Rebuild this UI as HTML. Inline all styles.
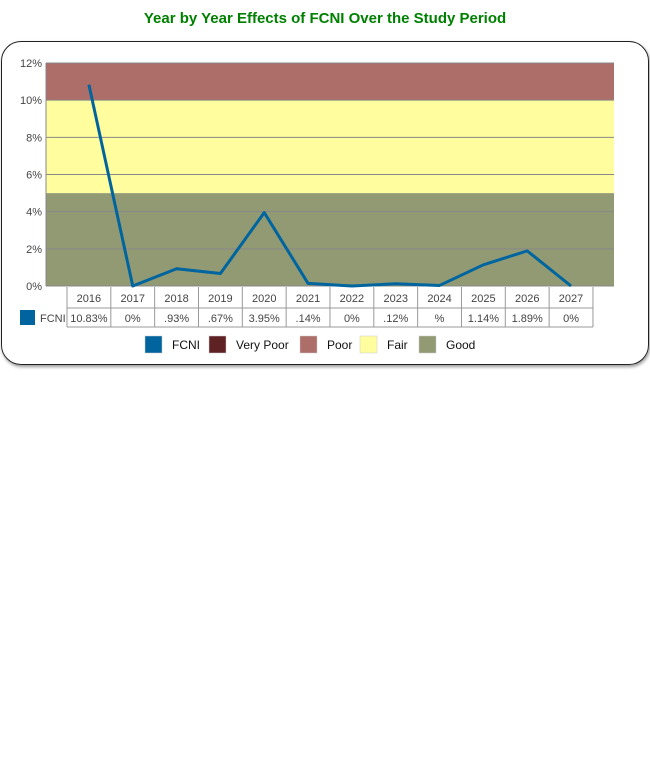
<!DOCTYPE html>
<html><head><meta charset="utf-8"><style>
body{margin:0;background:#fff;font-family:"Liberation Sans",Verdana,sans-serif;}
#title{position:absolute;left:0;width:650px;top:10px;text-align:center;color:#008000;font-weight:bold;font-size:15px;}
#box{position:absolute;left:1px;top:41px;width:646px;height:322px;border:1.5px solid #222;border-radius:20px;box-shadow:1px 2px 3px #999;}
svg{position:absolute;left:0;top:0;}
</style></head><body>
<div id="title">Year by Year Effects of FCNI Over the Study Period</div>
<div id="box"></div>
<svg id="c" width="650" height="766"></svg>
<script>
const categories=["2016","2017","2018","2019","2020","2021","2022","2023","2024","2025","2026","2027"];
const values=[10.83,0,0.93,0.67,3.95,0.14,0,0.12,0.03,1.14,1.89,0];
const labels=["10.83%","0%",".93%",".67%","3.95%",".14%","0%",".12%","%","1.14%","1.89%","0%"];
const ticks=[0,2,4,6,8,10,12];
const bands=[{from:0,to:5,color:"#919A73",name:"good"},{from:5,to:10,color:"#FFFD9E",name:"fair"},{from:10,to:12,color:"#AD6D69",name:"poor"}];
const L=46,R=614,T=63,B=286,colL=67,colW=43.83;
const y=v=>B-(v/12)*(B-T);
const x=i=>colL+colW*(i+0.5);
const svg=document.getElementById('c');const NS="http://www.w3.org/2000/svg";
function mk(t,a,p){const e=document.createElementNS(NS,t);for(const k in a)e.setAttribute(k,a[k]);(p||svg).appendChild(e);return e;}
bands.forEach(b=>{const r=mk('rect',{x:L,y:y(b.to),width:R-L,height:y(b.from)-y(b.to),fill:b.color});

});
ticks.forEach(t=>{const l=mk('line',{x1:L,x2:R,y1:y(t),y2:y(t),stroke:'#888','stroke-width':1});


const tx=mk('text',{x:42,y:y(t)+4,'text-anchor':'end','font-size':11,fill:'#444'});tx.textContent=t+'%';

});
mk('line',{x1:L,x2:L,y1:T,y2:B,stroke:'#888'});
const pl=mk('polyline',{points:values.map((v,i)=>x(i)+','+y(v)).join(' '),fill:'none',stroke:'#00659F','stroke-width':3,'stroke-linejoin':'round'});


// table
const tb=mk('g',{});


const n=categories.length;
mk('line',{x1:colL,x2:colL+colW*n,y1:308,y2:308,stroke:'#999'},tb);
mk('line',{x1:colL,x2:colL+colW*n,y1:327,y2:327,stroke:'#999'},tb);
for(let i=0;i<=n;i++)mk('line',{x1:colL+colW*i,x2:colL+colW*i,y1:287,y2:327,stroke:'#999'},tb);
categories.forEach((c,i)=>{const t=mk('text',{x:x(i),y:302,'text-anchor':'middle','font-size':11,fill:'#444'},tb);t.textContent=c;


const v=mk('text',{x:x(i),y:322,'text-anchor':'middle','font-size':11,fill:'#444'},tb);v.textContent=labels[i];

});
mk('rect',{x:20,y:310,width:15,height:15,fill:'#00659F'},tb);
const fl=mk('text',{x:40,y:322,'font-size':11,fill:'#444'},tb);fl.textContent='FCNI';
// legend
const leg=[["FCNI","#00659F",145],["Very Poor","#5E2124",209],["Poor","#AD6D69",300],["Fair","#FFFD9E",360],["Good","#919A73",419]];
leg.forEach(l=>{const g=mk('g',{});


mk('rect',{x:l[2],y:336,width:17,height:17,fill:l[1],stroke:'#ccc','stroke-width':0.5},g);
const t=mk('text',{x:l[2]+27,y:349,'font-size':12,fill:'#111'},g);t.textContent=l[0];});
</script>
</body></html>
